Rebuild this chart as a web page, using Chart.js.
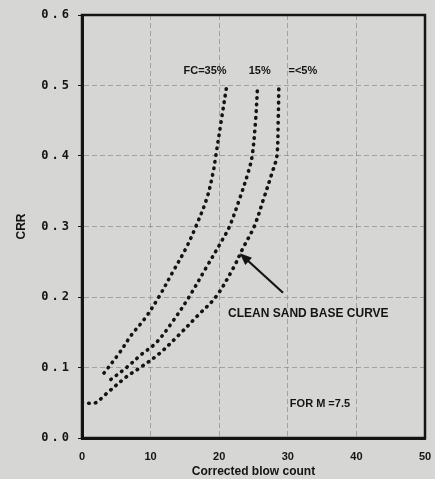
<!DOCTYPE html>
<html><head><meta charset="utf-8">
<script src="https://cdn.jsdelivr.net/npm/chart.js@4/dist/chart.umd.min.js"></script>
<style>html,body{margin:0;padding:0;background:#d6d6d4;overflow:hidden}</style>
</head><body>
<canvas id="c" width="435" height="479"></canvas>
<script>
// ---- data ----
const xTickValues = [0, 10, 20, 30, 40, 50];
const yTickValues = [0, 0.1, 0.2, 0.3, 0.4, 0.5, 0.6];
const xAxisTitle = "Corrected blow count";
const yAxisTitle = "CRR";

const fc35N   = [3.2, 5.4, 7.2, 9.2, 11.2, 13.2, 15.2, 16.6, 18.2, 19.1, 19.5, 20.3, 21.1];
const fc35CRR = [0.092, 0.12, 0.146, 0.17, 0.2, 0.235, 0.27, 0.3, 0.34, 0.376, 0.4, 0.45, 0.5];

const fc15N   = [4.2, 6.5, 8.6, 10.8, 13.2, 15.6, 18.0, 20.4, 21.5, 23.0, 24.2, 24.8, 25.3, 25.6];
const fc15CRR = [0.083, 0.1, 0.118, 0.135, 0.165, 0.2, 0.24, 0.28, 0.3, 0.34, 0.376, 0.4, 0.45, 0.5];

const cleanN   = [0, 2, 3.2, 6.5, 8.5, 11.3, 14, 17, 19.5, 22, 23.5, 25.1, 26.5, 27.7, 28.4, 28.6, 28.7];
const cleanCRR = [0.05, 0.05, 0.06, 0.087, 0.1, 0.12, 0.145, 0.175, 0.2, 0.24, 0.27, 0.3, 0.34, 0.376, 0.4, 0.45, 0.5];

const curveLabels = ["FC=35%", "15%", "=<5%"];
const curveLabelN = [14.8, 24.3, 30.1];
const curveLabelCRR = 0.52;
const baseCurveLabel = "CLEAN SAND BASE CURVE";
const baseCurveLabelAt = [21.3, 0.177];
const arrowFrom = [29.3, 0.206];
const arrowTo = [23.0, 0.262];
const magnitudeLabel = "FOR M =7.5";
const magnitudeLabelAt = [30.3, 0.048];

// ---- build ----
const pts = (xs, ys) => xs.map((x, i) => ({x, y: ys[i]}));
const INK = '#141414';
const dotStyle = {
  borderColor: INK, borderWidth: 3.6, borderDash: [0.5, 6.2], borderCapStyle: 'round',
  pointRadius: 0, fill: false, tension: 0.35, showLine: true
};

const annot = {
  id: 'annot',
  afterDatasetsDraw(chart) {
    const {ctx, chartArea: a, scales: {x, y}} = chart;
    ctx.save();
    ctx.strokeStyle = INK;
    ctx.lineWidth = 2.5;
    ctx.strokeRect(a.left, a.top, a.right - a.left, a.bottom - a.top);
    ctx.fillStyle = INK;
    ctx.textBaseline = 'middle';
    ctx.textAlign = 'left';
    ctx.font = 'bold 11px "Liberation Sans", Arial, sans-serif';
    curveLabels.forEach((t, i) => ctx.fillText(t, x.getPixelForValue(curveLabelN[i]), y.getPixelForValue(curveLabelCRR)));
    ctx.font = 'bold 12px "Liberation Sans", Arial, sans-serif';
    ctx.fillText(baseCurveLabel, x.getPixelForValue(baseCurveLabelAt[0]), y.getPixelForValue(baseCurveLabelAt[1]));
    ctx.font = 'bold 11px "Liberation Sans", Arial, sans-serif';
    ctx.fillText(magnitudeLabel, x.getPixelForValue(magnitudeLabelAt[0]), y.getPixelForValue(magnitudeLabelAt[1]));
    const x1 = x.getPixelForValue(arrowFrom[0]), y1 = y.getPixelForValue(arrowFrom[1]);
    const x2 = x.getPixelForValue(arrowTo[0]), y2 = y.getPixelForValue(arrowTo[1]);
    const ang = Math.atan2(y2 - y1, x2 - x1);
    const hl = 12, hw = 5;
    ctx.lineWidth = 2.2;
    ctx.beginPath();
    ctx.moveTo(x1, y1);
    ctx.lineTo(x2 - Math.cos(ang) * hl * 0.8, y2 - Math.sin(ang) * hl * 0.8);
    ctx.stroke();
    ctx.beginPath();
    ctx.moveTo(x2, y2);
    ctx.lineTo(x2 - Math.cos(ang) * hl - Math.sin(ang) * hw, y2 - Math.sin(ang) * hl + Math.cos(ang) * hw);
    ctx.lineTo(x2 - Math.cos(ang) * hl + Math.sin(ang) * hw, y2 - Math.sin(ang) * hl - Math.cos(ang) * hw);
    ctx.closePath();
    ctx.fill();
    ctx.restore();
  }
};

const spacing = {
  id: 'spacing',
  afterLayout(chart) {
    const s = chart.scales.y;
    if (!s._patched) {
      const orig = s.drawLabels;
      s.drawLabels = function (area) {
        const c = this.ctx; c.save(); c.letterSpacing = '3px'; orig.call(this, area); c.restore();
      };
      s._patched = true;
    }
  }
};

const gridColor = 'rgba(120,120,120,0.55)';

new Chart(document.getElementById('c'), {
  type: 'scatter',
  data: {
    datasets: [
      Object.assign({label: 'FC=35%', data: pts(fc35N, fc35CRR)}, dotStyle),
      Object.assign({label: 'FC=15%', data: pts(fc15N, fc15CRR)}, dotStyle),
      Object.assign({label: 'FC=<5%', data: pts(cleanN, cleanCRR)}, dotStyle)
    ]
  },
  options: {
    responsive: false, animation: false, devicePixelRatio: 1,
    layout: {padding: {top: 15, right: 10, left: 0, bottom: 0}},
    plugins: {legend: {display: false}, tooltip: {enabled: false}},
    scales: {
      x: {
        type: 'linear', min: 0, max: 50,
        afterBuildTicks: s => { s.ticks = xTickValues.map(v => ({value: v})); },
        afterFit: s => { s.height = 41; s.paddingRight = 0; },
        grid: {
          color: ctx => (ctx.tick && (ctx.tick.value === 0 || ctx.tick.value === 50)) ? 'rgba(0,0,0,0)' : gridColor,
          lineWidth: 1, tickLength: 0, drawTicks: false
        },
        border: {color: INK, width: 3, dash: [5, 3]},
        ticks: {color: INK, padding: 12, font: {family: '"Liberation Sans", Arial, sans-serif', weight: 'bold', size: 11}},
        title: {display: true, text: xAxisTitle, color: INK, padding: {top: 0, bottom: 0},
          font: {family: '"Liberation Sans", Arial, sans-serif', weight: 'bold', size: 12}}
      },
      y: {
        type: 'linear', min: 0, max: 0.6,
        afterBuildTicks: s => { s.ticks = yTickValues.map(v => ({value: v})); },
        afterFit: s => { s.width = 82; },
        grid: {
          color: ctx => (ctx.tick && (ctx.tick.value === 0 || ctx.tick.value === 0.6)) ? 'rgba(0,0,0,0)' : gridColor,
          lineWidth: 1, tickLength: 4, drawTicks: true, tickColor: INK
        },
        border: {color: INK, width: 3, dash: [5, 3]},
        ticks: {color: INK, padding: 6, callback: v => Number(v).toFixed(1),
          font: {family: '"DejaVu Sans Mono", monospace', weight: 'bold', size: 12}},
        title: {display: true, text: yAxisTitle, color: INK, padding: {top: 14, bottom: 0},
          font: {family: '"Liberation Sans", Arial, sans-serif', weight: 'bold', size: 12}}
      }
    }
  },
  plugins: [spacing, annot]
});
</script>
</body></html>
